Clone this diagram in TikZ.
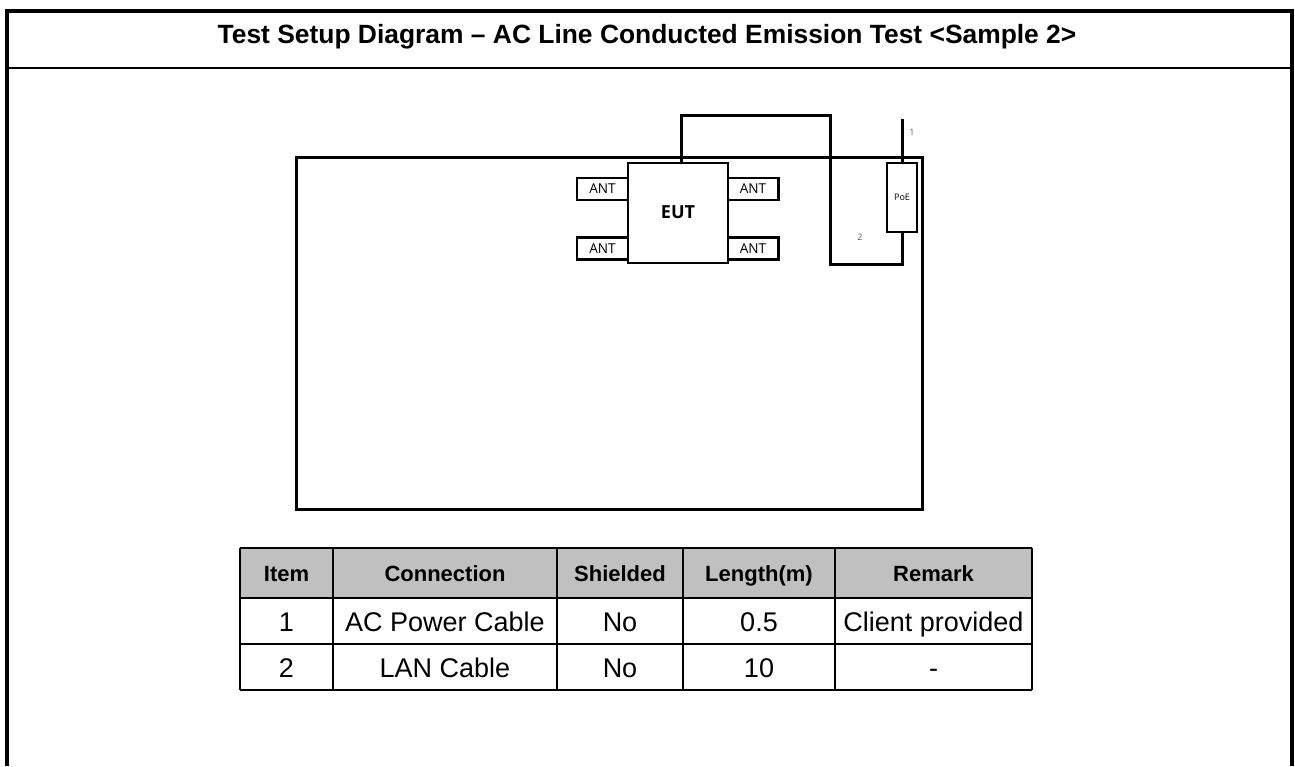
\documentclass[tikz,border=0pt]{standalone}
\usepackage{fontspec}
\setmainfont{Liberation Sans}
\newfontfamily\uifont{Open Sans}
\usetikzlibrary{positioning}

\definecolor{headgray}{RGB}{192,192,192}
\definecolor{labelgray}{RGB}{90,90,90}
\tikzstyle{frame}=[draw, line width=2pt]
\tikzstyle{bench}=[draw, line width=1.5pt]
\tikzstyle{cable}=[line width=1.5pt]
\tikzstyle{eut}=[draw, line width=1pt, fill=white, minimum width=50pt,
                 minimum height=50pt, inner sep=0pt,
                 font=\uifont\bfseries\fontsize{9}{10}\selectfont]
\tikzstyle{ant}=[draw, line width=1.2pt, fill=white, minimum width=25.5pt,
                 minimum height=11pt, inner sep=0pt,
                 font=\uifont\fontsize{6.8}{7}\selectfont]
\tikzstyle{poe}=[draw, line width=1.4pt, fill=white, minimum width=15pt,
                 minimum height=34.5pt, inner sep=0pt,
                 font=\uifont\fontsize{4.5}{5}\selectfont]
\tikzstyle{cablelabel}=[text=labelgray, inner sep=0pt,
                        font=\uifont\fontsize{4.5}{5}\selectfont]
\tikzstyle{title}=[font=\bfseries\fontsize{13.2}{15}\selectfont]
\tikzstyle{headcell}=[anchor=base, inner sep=0pt,
                      font=\bfseries\fontsize{11}{13}\selectfont]
\tikzstyle{bodycell}=[anchor=base, inner sep=0pt,
                      font=\fontsize{13.5}{15}\selectfont]

\begin{document}
\begin{tikzpicture}[x=0.5pt, y=-0.5pt]
  \useasboundingbox (0,0) rectangle (1295,766);
  % Frame and title
  \draw[frame] (7,766) -- (7,10.5) -- (1292,10.5) -- (1292,766);
  \draw[line width=1pt] (7,68) -- (1292,68);
  \node[title] (title) at (647,37)
    {Test Setup Diagram – AC Line Conducted Emission Test <Sample 2>};
  %
  % Ground plane
  \draw[bench] (296,157) rectangle (922,509);
  %
  % EUT with its antennas
  \foreach \place/\name in {{(602.5,189)/antA}, {(602.5,248.5)/antB},
           {(753,189)/antC}, {(753,248.5)/antD}}
    \node[ant] (\name) at \place {ANT};
  \node[eut] (eut) at (678,212.5) {EUT};
  %
  % PoE injector and cables
  \node[poe] (poe) at (902,197.5) {PoE};
  \coordinate (lanTop) at (830,115);
  \coordinate (lanBot) at (830,264);
  \coordinate (acEnd) at (902,119);
  \draw[cable] ([xshift=1.5pt]eut.north) |- (lanTop) -- (lanBot) -| (poe.south);
  \draw[cable] (poe.north) -- (acEnd);
  \node[cablelabel] (lab1) at (912,132) {1};
  \node[cablelabel] (lab2) at (860,237) {2};
  %%%%%%%%
  % Cable table
  \fill[headgray] (240,548) rectangle (1032,598);
  \foreach \y in {548,598,644,690}
    \draw[line width=1.4pt] (240,\y) -- (1032,\y);
  \foreach \x in {240,333,557,683,835,1032}
    \draw[line width=1.4pt] (\x,548) -- (\x,690);
  \foreach \x/\txt/\i in {286.5/Item/1, 445/Connection/2, 620/Shielded/3,
           759/Length(m)/4, 933.5/Remark/5}
    \node[headcell] (head\i) at (\x,581) {\txt};
  \foreach \x/\txt/\i in {286.5/1/1, 445/AC Power Cable/2, 620/No/3,
           759/0.5/4, 933.5/Client provided/5}
    \node[bodycell] (rowA\i) at (\x,631) {\txt};
  \foreach \x/\txt/\i in {286.5/2/1, 445/LAN Cable/2, 620/No/3,
           759/10/4, 933.5/-/5}
    \node[bodycell] (rowB\i) at (\x,677) {\txt};
\end{tikzpicture}
\end{document}
